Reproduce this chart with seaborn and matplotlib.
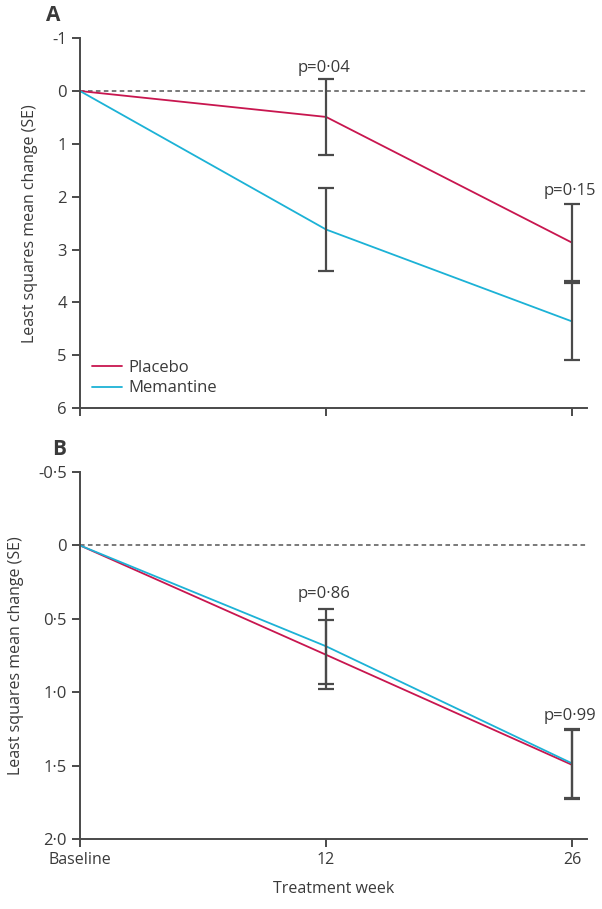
import pandas as pd
import matplotlib.pyplot as plt
import seaborn as sns

# values
weeks = ["Baseline", "12", "26"]
groups = ["Placebo", "Memantine"]

placebo_a = [0, 0.49, 2.87]
placebo_a_se = [0, 0.72, 0.73]
memantine_a = [0, 2.62, 4.36]
memantine_a_se = [0, 0.78, 0.72]

placebo_b = [0, 0.745, 1.495]
placebo_b_se = [0, 0.235, 0.235]
memantine_b = [0, 0.687, 1.485]
memantine_b_se = [0, 0.257, 0.237]

p_values_a = ["p=0·04", "p=0·15"]
p_values_b = ["p=0·86", "p=0·99"]

yticks_a = [-1, 0, 1, 2, 3, 4, 5, 6]
yticklabels_a = ["-1", "0", "1", "2", "3", "4", "5", "6"]
yticks_b = [-0.5, 0, 0.5, 1.0, 1.5, 2.0]
yticklabels_b = ["-0·5", "0", "0·5", "1·0", "1·5", "2·0"]

colors = {"Placebo": "#c8164f", "Memantine": "#1cb2d6"}
text_col = "#3a3a3a"
axis_col = "#4a4a4a"

sns.set_style("ticks")
plt.rcParams['font.family'] = ['Open Sans', 'DejaVu Sans']
plt.rcParams['font.size'] = 11


def make_df(pl, pl_se, me, me_se):
    rows = []
    for g, vals, ses in [("Placebo", pl, pl_se), ("Memantine", me, me_se)]:
        for w, v, s in zip(weeks, vals, ses):
            rows.append({"week": w, "value": v, "se": s, "group": g})
    return pd.DataFrame(rows)


df_a = make_df(placebo_a, placebo_a_se, memantine_a, memantine_a_se)
df_b = make_df(placebo_b, placebo_b_se, memantine_b, memantine_b_se)

fig = plt.figure(figsize=(6.02, 9.09), dpi=100)
ax_a = fig.add_axes([0.1329, 0.551, 0.842, 0.407])
ax_b = fig.add_axes([0.1329, 0.077, 0.842, 0.4037])


def draw(ax, df, ylim, yticks, yticklabels, pvals, pv_y, show_legend):
    ax.axhline(0, color="#555555", lw=1.1, ls=(0, (3, 2.2)), zorder=1)
    sns.lineplot(data=df, x="week", y="value", hue="group", hue_order=groups,
                 palette=colors, sort=False, lw=1.3, ax=ax, legend=show_legend,
                 zorder=2)
    for g in groups:
        sub = df[(df.group == g) & (df.se > 0)]
        ax.errorbar(sub.week, sub.value, yerr=sub.se, fmt="none",
                    ecolor=axis_col, elinewidth=1.6, capsize=5.5,
                    capthick=1.6, zorder=3)
    ax.set_xlim(0, 2.06)
    ax.set_ylim(*ylim)
    ax.set_yticks(yticks)
    ax.set_yticklabels(yticklabels)
    ax.set_ylabel("Least squares mean change (SE)", color=text_col,
                  labelpad=10, fontsize=11.5)
    ax.set_xlabel("")
    for s in ["top", "right"]:
        ax.spines[s].set_visible(False)
    for s in ["left", "bottom"]:
        ax.spines[s].set_color(axis_col)
        ax.spines[s].set_linewidth(1.4)
    ax.tick_params(colors=axis_col, labelcolor=text_col, width=1.4,
                   length=6, labelsize=12)
    for x, txt, y in zip([1, 2], pvals, pv_y):
        ax.text(x - 0.01, y, txt, ha="center", va="center", color=text_col,
                fontsize=12)


draw(ax_a, df_a, (6, -1), yticks_a, yticklabels_a, p_values_a, [-0.44, 1.9], True)
draw(ax_b, df_b, (2.0, -0.5), yticks_b, yticklabels_b, p_values_b, [0.33, 1.16], False)

ax_a.set_xticklabels([])
ax_b.set_xlabel("Treatment week", color=text_col, labelpad=9, fontsize=11.5)
ax_b.tick_params(axis="x", labelsize=11.5)

leg = ax_a.legend(loc="lower left", bbox_to_anchor=(0.0, 0.0), frameon=False,
                  borderaxespad=0.3, handlelength=1.8, handletextpad=0.4,
                  labelspacing=0.25, fontsize=12)
for t in leg.get_texts():
    t.set_color(text_col)
for h in leg.get_lines():
    h.set_linewidth(1.3)

fig.text(0.088, 0.983, "A", fontsize=15, fontweight="bold", color=text_col,
         ha="center", va="center")
fig.text(0.098, 0.506, "B", fontsize=15, fontweight="bold", color=text_col,
         ha="center", va="center")

fig.savefig("out.png", dpi=100)
